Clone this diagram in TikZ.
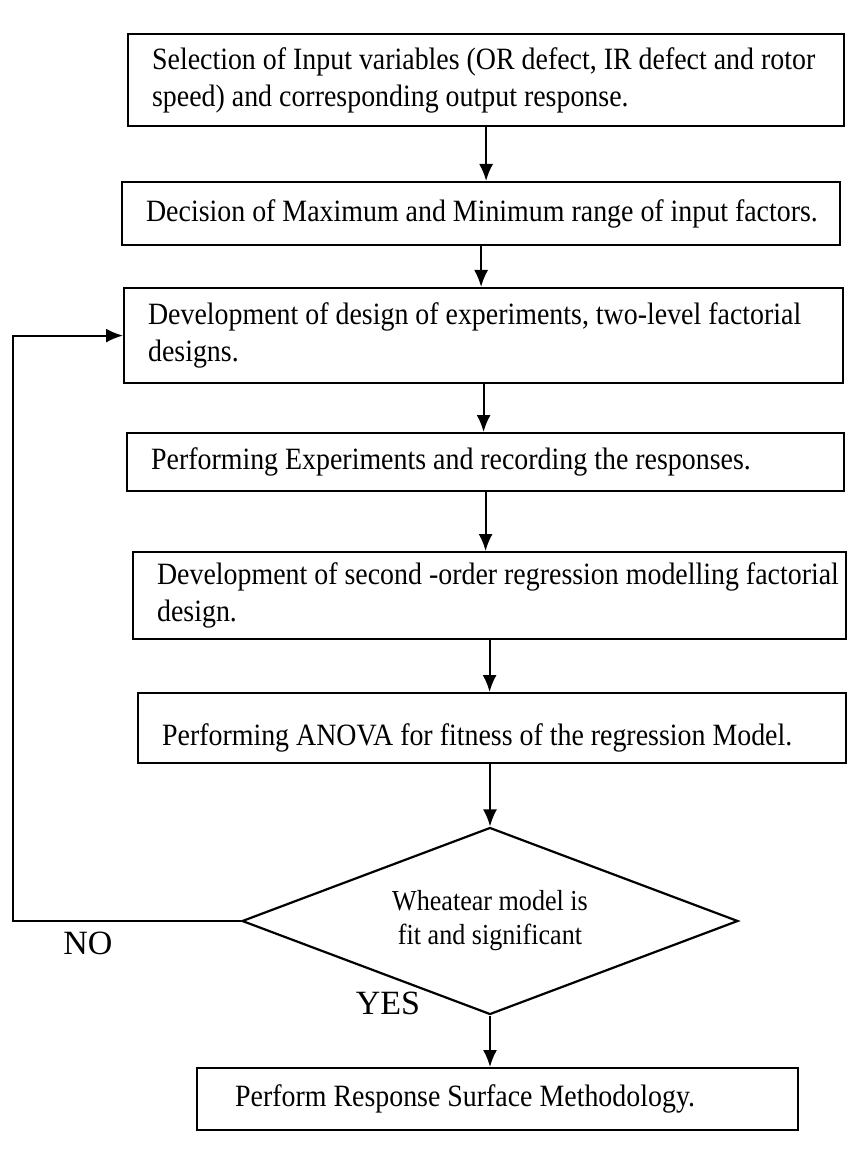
\documentclass[tikz,border=0pt]{standalone}
\usepackage{fontspec}
\setmainfont[FakeStretch=0.9]{Liberation Serif}
\newfontfamily\labelfont{Liberation Serif}
\usetikzlibrary{shapes.geometric,arrows.meta}

\tikzset{
  stage/.style={draw,line width=1.1pt,rectangle,anchor=north west,align=flush left,
    inner xsep=12pt,inner ysep=4pt,font=\fontsize{15.5}{18.5}\selectfont},
  decide/.style={draw,line width=1.1pt,diamond,aspect=2.65,inner sep=0pt,
    align=center,font=\fontsize{14.5}{17}\selectfont},
  flow/.style={line width=1pt,-{Latex[length=8.5pt,width=7pt]}},
  answer/.style={font=\labelfont\fontsize{17}{20}\selectfont}
}

\begin{document}
\begin{tikzpicture}[x=0.5pt,y=-0.5pt]
\useasboundingbox (0,0) rectangle (847,1171);
\node[stage,text width=334pt,minimum height=46pt] (select) at (127,33)
 {\mbox{Selection of Input variables (OR defect, IR defect and rotor}\\speed) and corresponding output response.};
\node[stage,text width=335pt,minimum height=31.5pt] (range) at (121,181)
 {\mbox{Decision of Maximum and Minimum range of input factors.}};
\node[stage,text width=335.5pt,minimum height=47.5pt] (doe) at (123,287)
 {\mbox{Development of design of experiments, two-level factorial}\\designs.};
\node[stage,text width=334.5pt,minimum height=29pt] (expt) at (126,432)
 {\mbox{Performing Experiments and recording the responses.}};
\node[stage,text width=332.5pt,minimum height=43.5pt] (model) at (132,551)
 {\mbox{Development of second -order regression modelling factorial}\\design.};
\node[stage,text width=330pt,minimum height=35pt,text height=20pt,text depth=3pt] (anova) at (137,692)
 {\mbox{Performing ANOVA for fitness of the regression Model.}};
\node[decide,minimum width=248pt,minimum height=93.5pt] (check) at (490,921)
 {Wheatear model is\\fit and significant};
\node[stage,inner xsep=19pt,text width=262.5pt,minimum height=31pt] (perform) at (196,1067)
 {Perform Response Surface Methodology.};
\coordinate (back) at (13,921);
\node[answer] (no) at (88,943) {NO};
\node[answer] (yes) at (388,1003) {YES};

\draw[flow] (select.south) -- (select.south |- range.north);
\draw[flow] (range.south) -- (range.south |- doe.north);
\draw[flow] (doe.south) -- (doe.south |- expt.north);
\draw[flow] (expt.south) -- (expt.south |- model.north);
\draw[flow] (model.south) -- (model.south |- anova.north);
\draw[flow] (check.north |- anova.south) -- (check.north);
\draw[flow] (check.south) -- (check.south |- perform.north);
\draw[flow] (check.west) -- (back) |- (doe.west);
\end{tikzpicture}
\end{document}
